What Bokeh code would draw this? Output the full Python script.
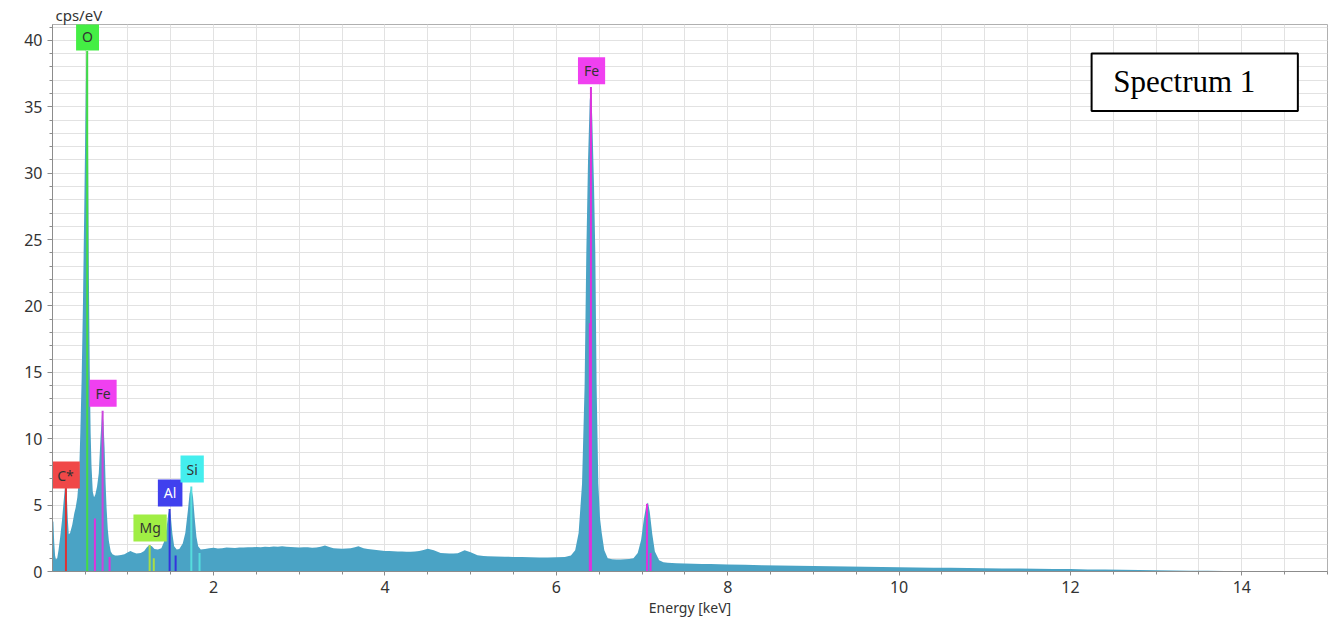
from bokeh.plotting import figure
from bokeh.models import Range1d, SingleIntervalTicker, Label, BoxAnnotation, ColumnDataSource
from bokeh.core.properties import value
from bokeh.embed import file_html
from bokeh.resources import INLINE

# ---- spectrum (energy in keV, intensity in cps/eV) ----
energy_kev = [
    0.12, 0.13, 0.14, 0.15, 0.16, 0.175, 0.19, 0.21, 0.23, 0.25, 0.265, 0.275, 0.285, 0.30, 0.31,
    0.325, 0.35, 0.375, 0.39, 0.41, 0.43, 0.445, 0.46, 0.475, 0.49, 0.50, 0.51, 0.518, 0.525,
    0.535, 0.545, 0.555, 0.565, 0.575, 0.59, 0.605, 0.62, 0.64, 0.66, 0.68, 0.70, 0.715, 0.728,
    0.74, 0.751, 0.765, 0.778, 0.80, 0.82, 0.85, 0.88, 0.92, 0.96, 1.00, 1.03, 1.06, 1.10, 1.15,
    1.19, 1.22, 1.25, 1.28, 1.31, 1.35, 1.39, 1.42, 1.45, 1.47, 1.485, 1.50, 1.52, 1.54, 1.57,
    1.60, 1.64, 1.67, 1.70, 1.72, 1.74, 1.76, 1.78, 1.80, 1.82, 1.85, 1.90, 1.95, 2.00, 2.05,
    2.10, 2.15, 2.20, 2.25, 2.30, 2.35, 2.40, 2.45, 2.50, 2.55, 2.60, 2.65, 2.70, 2.75, 2.80,
    2.85, 2.90, 2.95, 3.00, 3.05, 3.10, 3.15, 3.20, 3.25, 3.30, 3.35, 3.40, 3.45, 3.50, 3.55,
    3.60, 3.65, 3.69, 3.75, 3.80, 3.85, 3.90, 3.95, 4.00, 4.05, 4.10, 4.15, 4.20, 4.25, 4.30,
    4.35, 4.40, 4.45, 4.50, 4.57, 4.65, 4.70, 4.75, 4.80, 4.85, 4.93, 5.00, 5.08, 5.15, 5.20,
    5.30, 5.40, 5.50, 5.60, 5.70, 5.80, 5.90, 6.00, 6.10, 6.17, 6.22, 6.26, 6.30, 6.33, 6.35,
    6.37, 6.39, 6.405, 6.42, 6.44, 6.455, 6.47, 6.49, 6.51, 6.53, 6.56, 6.60, 6.65, 6.70, 6.75,
    6.80, 6.85, 6.90, 6.95, 6.99, 7.02, 7.05, 7.07, 7.09, 7.12, 7.15, 7.20, 7.25, 7.30, 7.40,
    7.50, 7.60, 7.70, 7.80, 7.90, 8.00, 8.20, 8.40, 8.60, 8.80, 9.00, 9.20, 9.40, 9.60, 9.80,
    10.0, 10.2, 10.4, 10.6, 10.8, 11.0, 11.2, 11.4, 11.6, 11.8, 12.0, 12.2, 12.4, 12.6, 12.8,
    13.0, 13.2, 13.4, 13.6, 13.8, 13.85, 13.9, 15.0,
]
counts_cps = [
    3.6, 3.8, 2.2, 1.2, 0.9, 1.0, 1.6, 2.6, 3.8, 5.3, 6.3, 6.5, 6.0, 3.8, 2.8,
    2.9, 3.5, 4.4, 4.8, 5.6, 7.2, 10.5, 14.5, 20.0, 27.0, 32.0, 37.0, 39.2, 37.5,
    32.0, 22.0, 15.0, 10.5, 8.0, 6.0, 5.6, 5.8, 6.4, 7.4, 10.0, 12.1, 11.2, 9.3,
    6.6, 4.8, 3.2, 2.3, 1.5, 1.3, 1.2, 1.2, 1.25, 1.3, 1.45, 1.55, 1.45, 1.35, 1.4,
    1.55, 1.8, 2.0, 1.9, 1.7, 1.65, 1.75, 2.2, 3.2, 4.3, 4.7, 4.2, 2.8, 1.9, 1.65,
    1.7, 2.1, 2.9, 4.6, 5.9, 6.3, 5.6, 4.0, 2.6, 1.9, 1.65, 1.7, 1.75, 1.78, 1.74,
    1.76, 1.8, 1.79, 1.77, 1.81, 1.8, 1.83, 1.82, 1.84, 1.83, 1.86, 1.85, 1.88, 1.87, 1.9,
    1.86, 1.85, 1.82, 1.8, 1.83, 1.82, 1.79, 1.8, 1.86, 1.95, 1.85, 1.75, 1.74, 1.72, 1.73,
    1.75, 1.82, 1.9, 1.75, 1.7, 1.66, 1.62, 1.58, 1.55, 1.54, 1.52, 1.5, 1.5, 1.49, 1.48,
    1.5, 1.55, 1.62, 1.72, 1.6, 1.4, 1.37, 1.35, 1.36, 1.38, 1.6, 1.45, 1.22, 1.17, 1.15,
    1.13, 1.12, 1.1, 1.09, 1.08, 1.06, 1.05, 1.07, 1.1, 1.2, 1.6, 2.9, 6.6, 14.0, 24.0,
    31.0, 35.5, 36.5, 34.0, 29.0, 24.0, 14.0, 6.6, 4.0, 2.9, 1.6, 1.0, 0.93, 0.9, 0.9,
    0.92, 0.95, 1.0, 1.4, 2.4, 3.9, 5.0, 5.2, 4.5, 2.8, 1.5, 0.85, 0.7, 0.65, 0.62,
    0.6, 0.58, 0.57, 0.56, 0.55, 0.53, 0.5, 0.48, 0.46, 0.44, 0.42, 0.4, 0.38, 0.36, 0.34,
    0.32, 0.3, 0.29, 0.28, 0.26, 0.25, 0.23, 0.22, 0.2, 0.19, 0.18, 0.16, 0.15, 0.13, 0.12,
    0.1, 0.08, 0.06, 0.05, 0.03, 0.02, 0.0, 0.0,
]

# ---- element marker lines ----
line_energy = [0.277, 0.525, 0.615, 0.705, 0.786, 1.254, 1.302, 1.487, 1.557, 1.740, 1.836,
               6.391, 6.404, 7.058, 7.100]
line_height = [6.4, 39.2, 4.0, 12.1, 1.1, 2.0, 1.0, 4.7, 1.2, 6.4, 1.4,
               18.7, 36.5, 5.1, 1.4]
line_color = ["#dd3333", "#44dd44", "#dd33dd", "#cc44dd", "#dd33dd", "#aadd44", "#aadd44",
              "#3333dd", "#3333dd", "#55dddd", "#55dddd", "#dd33dd", "#dd33dd", "#dd33dd", "#dd33dd"]

# ---- element labels ----
label_text = ["C*", "O", "Fe", "Mg", "Al", "Si", "Fe"]
label_energy = [0.272, 0.529, 0.710, 1.259, 1.493, 1.750, 6.411]
label_height = [6.25, 39.25, 12.4, 2.26, 4.9, 6.7, 36.7]
label_fill = ["#f04848", "#44ee44", "#f040f0", "#a0ee44", "#4040ee", "#44eeee", "#f040f0"]
label_ink = ["#333333", "#333333", "#333333", "#333333", "#ffffff", "#333333", "#333333"]

x_ticks_major = 2
y_ticks_major = 5

p = figure(width=1329, height=623, output_backend="svg", toolbar_location=None,
           x_range=Range1d(0.12, 15.0), y_range=Range1d(0, 41.2),
           min_border_left=52, min_border_right=2, min_border_top=24, min_border_bottom=52,
           x_axis_label="Energy [keV]")

p.title.text = "cps/eV"
p.title.align = "left"
p.title.offset = 3
p.title.standoff = 0
p.title.text_font = "Noto Sans"
p.title.text_font_size = "15px"
p.title.text_font_style = "normal"
p.title.text_color = "#333333"

p.outline_line_color = "#b0b0b0"
p.background_fill_color = "white"

p.xaxis.ticker = SingleIntervalTicker(interval=x_ticks_major, num_minor_ticks=4)
p.yaxis.ticker = SingleIntervalTicker(interval=y_ticks_major, num_minor_ticks=5)
p.xgrid.ticker = p.xaxis.ticker
p.ygrid.ticker = p.yaxis.ticker
for g in (p.xgrid, p.ygrid):
    g.grid_line_color = "#e2e2e2"
    g.minor_grid_line_color = "#e2e2e2"

for ax in (p.xaxis, p.yaxis):
    ax.axis_line_color = "#8c8c8c"
    ax.major_tick_line_color = "#8c8c8c"
    ax.minor_tick_line_color = "#8c8c8c"
    ax.major_tick_in = 0
    ax.minor_tick_in = 0
    ax.major_label_text_font = "Noto Sans"
    ax.major_label_text_font_size = "16px"
    ax.major_label_text_color = "#333333"
    ax.major_label_standoff = 5
p.xaxis.major_tick_out = 4
p.xaxis.minor_tick_out = 3
p.yaxis.major_tick_out = 5
p.yaxis.minor_tick_out = 3
p.xaxis.axis_label_text_font = "Noto Sans"
p.xaxis.axis_label_text_font_size = "14px"
p.xaxis.axis_label_text_font_style = "normal"
p.xaxis.axis_label_text_color = "#333333"
p.xaxis.axis_label_standoff = 2

spec = ColumnDataSource(dict(x=energy_kev, y=counts_cps))
p.varea(x="x", y1=0, y2="y", source=spec, fill_color="#4aa3c5")

lines = ColumnDataSource(dict(x=line_energy, h=line_height, c=line_color,
                              z=[0] * len(line_energy)))
p.segment(x0="x", y0="z", x1="x", y1="h", line_color="c", line_width=2, source=lines)

labs = ColumnDataSource(dict(x=label_energy, y=label_height, t=label_text,
                             f=label_fill, k=label_ink))
p.text(x="x", y="y", text="t", source=labs, anchor="bottom_center",
       text_align="center", text_baseline="middle",
       text_font=value("Noto Sans"), text_font_size="14px", text_color="k",
       background_fill_color="f", padding=(6, 4))

box = BoxAnnotation(left=12.247, right=14.654, top=39.02, bottom=34.69,
                    fill_color="white", fill_alpha=1.0, line_color="black",
                    line_alpha=1.0, line_width=2)
p.add_layout(box)
p.add_layout(Label(x=12.5, y=36.9, text="Spectrum 1", text_font="Liberation Serif",
                   text_font_size="31px", text_color="black", text_baseline="middle"))

open("out.html", "w").write(file_html(p, INLINE))
